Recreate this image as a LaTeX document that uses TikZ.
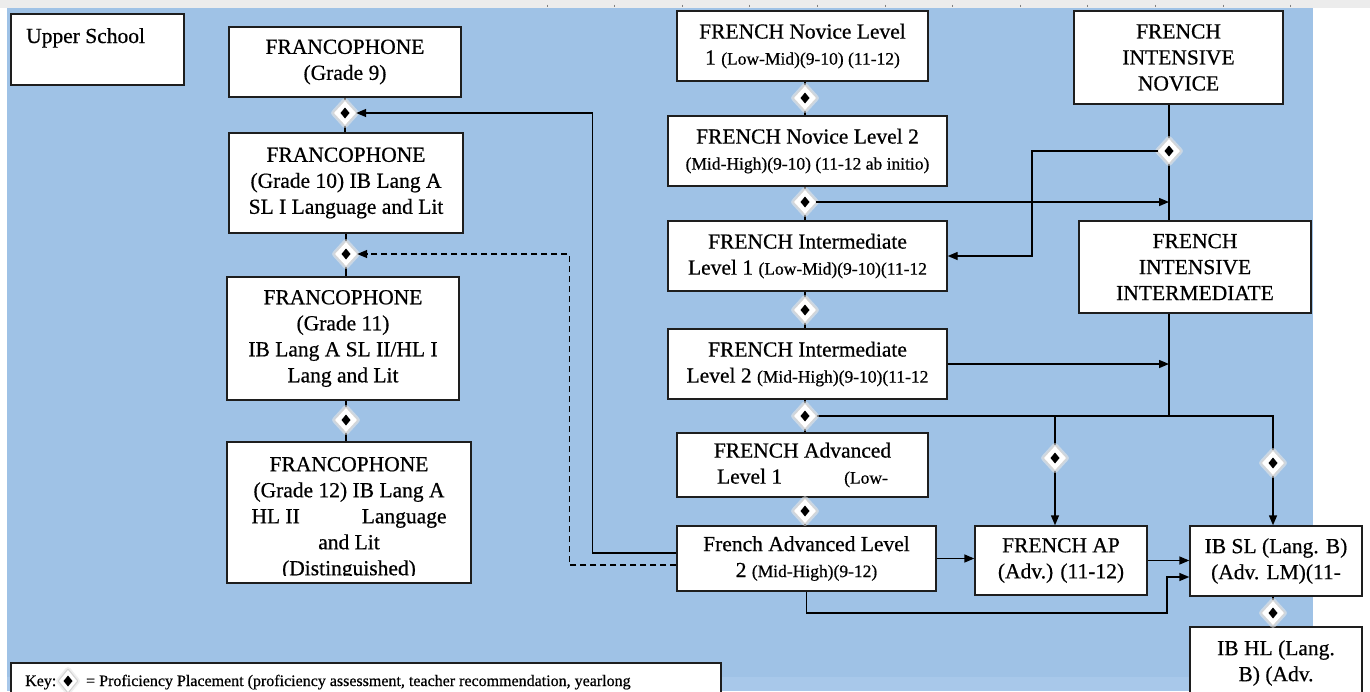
\documentclass[tikz,border=0pt]{standalone}
\usepackage{fontspec}
\setmainfont{Liberation Serif}[FakeBold=0.6]
\usetikzlibrary{arrows.meta,shapes.geometric,calc}
\definecolor{bgblue}{RGB}{159,194,230}
\definecolor{bgblue2}{RGB}{168,200,234}
\definecolor{topgrey}{RGB}{236,236,236}
\definecolor{boxline}{RGB}{30,30,30}
\newcommand{\mainf}{\fontsize{21.5}{26}\selectfont}
\newcommand{\smf}{\fontsize{17.5}{20}\selectfont}
\newcommand{\keyf}{\fontsize{16}{18}\selectfont}
\begin{document}
\begin{tikzpicture}[x=1pt,y=-1pt,
  box/.style={draw=boxline, line width=1.4pt, fill=white, inner sep=0pt, align=center, font=\mainf},
  conn/.style={line width=1.4pt, black},
  arr/.style={conn, -{Triangle[length=10pt,width=8pt]}},
  dia/.style={diamond, minimum width=22pt, minimum height=24pt, inner sep=0pt, fill=white,
     preaction={draw=black!10, line width=6pt, line join=round, opacity=0.6},
     preaction={draw=black!16, line width=2.5pt, line join=round},
     path picture={\fill[black] (path picture bounding box.center) +(0,5.5) -- +(4.5,0) -- +(0,-5.5) -- +(-4.5,0) -- cycle;}},
  txt/.style={inner sep=0pt}
]
\clip (0,0) rectangle (1370,691);
\fill[white] (0,0) rectangle (1370,691);
\fill[topgrey] (0,0) rectangle (1370,8);
\fill[bgblue] (7,8) rectangle (1313,691);
\fill[bgblue2] (7,677) rectangle (1313,691);
\foreach \i in {0,...,11} \draw[gray, line width=0.8pt] (547+67.6*\i,4.5) -- ++(0,2.5);

% coordinates of diamonds
\coordinate (cl1) at (345,113);
\coordinate (cl2) at (346,254);
\coordinate (cl3) at (346,420);
\coordinate (cm1) at (805,98);
\coordinate (cm2) at (805,202);
\coordinate (cm3) at (805,310);
\coordinate (cm4) at (805,416);
\coordinate (cm5) at (805,511);
\coordinate (cr1) at (1169,151);
\coordinate (vx) at (1169,0);
\coordinate (xap) at (1055,0);
\coordinate (xsl) at (1273,0);

% boxes
\node[box, minimum width=173pt, minimum height=71pt] (us) at (97.5,49.5) {};
\node[txt, anchor=base west, font=\mainf] (ust) at (26,43) {Upper School};

\node[box, minimum width=232pt, minimum height=70pt] (f9) at (345,62) {FRANCOPHONE\\(Grade 9)};
\node[box, minimum width=234pt, minimum height=100pt] (f10) at (346,183) {FRANCOPHONE\\(Grade 10) IB Lang A\\SL I Language and Lit};
\node[box, minimum width=232pt, minimum height=123pt] (f11) at (343,338.5) {FRANCOPHONE\\(Grade 11)\\IB Lang A SL II/HL I\\Lang and Lit};
\node[box, minimum width=244pt, minimum height=141pt] (f12) at (349,512.5) {};
\begin{scope}
\clip (228,443) rectangle (470,575);
\node[txt, anchor=north, align=center, font=\mainf] (f12t) at (349,456.8) {FRANCOPHONE\\(Grade 12) IB Lang A\\HL II\hspace{62pt}Language\\and Lit\\(Distinguished)};
\end{scope}

\node[box, minimum width=251pt, minimum height=70pt] (n1) at (802.5,46) {FRENCH Novice Level\\1 {\smf (Low-Mid)(9-10) (11-12)}};
\node[box, minimum width=279pt, minimum height=70pt] (n2) at (807.5,151) {FRENCH Novice Level 2\\{\smf (Mid-High)(9-10) (11-12 ab initio)}};
\node[box, minimum width=279pt, minimum height=70pt] (i1) at (807.5,256) {FRENCH Intermediate\\Level 1 {\smf (Low-Mid)(9-10)(11-12}};
\node[box, minimum width=279pt, minimum height=70pt] (i2) at (807.5,364) {FRENCH Intermediate\\Level 2 {\smf (Mid-High)(9-10)(11-12}};
\node[box, minimum width=251pt, minimum height=64pt] (a1) at (802.5,465) {FRENCH Advanced\\Level 1\hspace{62pt}{\smf (Low-}};
\node[box, minimum width=259pt, minimum height=65pt] (a2) at (806.5,558.5) {French Advanced Level\\2 {\smf (Mid-High)(9-12)}};
\node[box, minimum width=172pt, minimum height=69pt] (ap) at (1061,560.5) {FRENCH AP\\(Adv.) (11-12)};
\node[box, minimum width=172pt, minimum height=70pt] (ibsl) at (1276,561) {IB SL (Lang. B)\\(Adv. LM)(11-};
\node[box, minimum width=172pt, minimum height=72pt] (ibhl) at (1276,663) {IB HL (Lang.\\B) (Adv.};
\node[box, minimum width=209pt, minimum height=93pt] (inn) at (1178.5,57.5) {FRENCH\\INTENSIVE\\NOVICE};
\node[box, minimum width=232pt, minimum height=92pt] (ini) at (1195,267) {FRENCH\\INTENSIVE\\INTERMEDIATE};

% key
\node[draw=boxline, line width=1.4pt, fill=white, minimum width=710pt, minimum height=50pt, inner sep=0pt] (key) at (366,688) {};
\node[txt, anchor=base west, font=\keyf] (keyt) at (25,686) {Key:};
\node[txt, anchor=base west, font=\keyf] (keyt2) at (86,686) {= Proficiency Placement (proficiency assessment, teacher recommendation, yearlong};

% plain connectors
\draw[conn] (f9.south -| cl1) -- (f10.north -| cl1);
\draw[conn] (f10.south -| cl2) -- (f11.north -| cl2);
\draw[conn] (f11.south -| cl3) -- (f12.north -| cl3);
\draw[conn] (n1.south -| cm1) -- (n2.north -| cm1);
\draw[conn] (n2.south -| cm2) -- (i1.north -| cm2);
\draw[conn] (i1.south -| cm3) -- (i2.north -| cm3);
\draw[conn] (i2.south -| cm4) -- (a1.north -| cm4);
\draw[conn] (a1.south -| cm5) -- (a2.north -| cm5);
\draw[conn] (inn.south -| vx) -- (ini.north -| vx);
\draw[conn] (ini.south -| vx) -- (cm4 -| vx);
\draw[arr] (cm4) -| (ibsl.north -| xsl);
\draw[arr] (cm4 -| xap) -- (ap.north -| xap);
\draw[conn] (ibsl.south -| xsl) -- (ibhl.north -| xsl);
\draw[arr] (i2.east) -- (i2.east -| vx);
\draw[arr] (a2.east) -- (a2.east -| ap.west);
\draw[arr] (ap.east) -- (ap.east -| ibsl.west);
\draw[arr] (a2.south) |- (1167,613) |- (ibsl.west |- 0,577);

% diamonds
\node[dia] (dl1) at (cl1) {};
\node[dia] (dl2) at (cl2) {};
\node[dia] (dl3) at (cl3) {};
\node[dia] (dm1) at (cm1) {};
\node[dia] (dm2) at (cm2) {};
\node[dia] (dm3) at (cm3) {};
\node[dia] (dm4) at (cm4) {};
\node[dia] (dm5) at (cm5) {};
\node[dia] (dr1) at (cr1) {};
\node[dia] (dap) at (1055,458) {};
\node[dia] (dsl) at (1273,463) {};
\node[dia] (dhl) at (1273,613) {};
\node[dia, minimum width=18pt, minimum height=22pt] (dk) at (68,681) {};

% connectors ending at diamonds
\draw[arr] (a2.west |- 0,553) -- ++(-84,0) |- (dl1.east);
\draw[arr, dash pattern=on 6pt off 4pt] (a2.west |- 0,565) -- ++(-107,0) |- (dl2.east);
\draw[arr] (dm2.east) -- (dm2.east -| vx);
\draw[arr] (dr1.west) -- ++(-126,0) |- (i1.east);
\end{tikzpicture}
\end{document}
